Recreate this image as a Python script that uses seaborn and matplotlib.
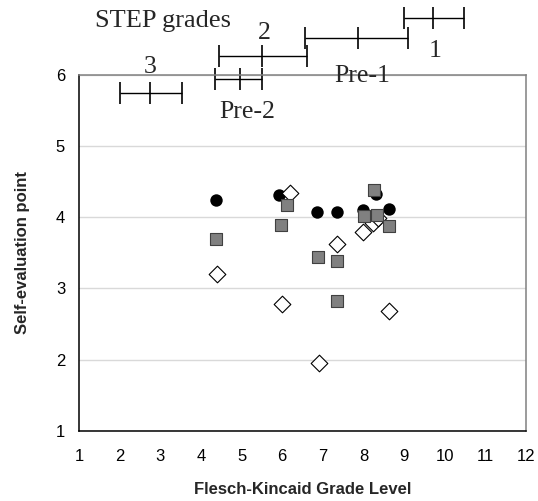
import numpy as np
import pandas as pd
import seaborn as sns
import matplotlib.pyplot as plt

# self-evaluation vs Flesch-Kincaid grade, three groups of readers
circle_x = [4.37, 5.92, 6.86, 7.34, 8.00, 8.32, 8.62]
circle_y = [4.24, 4.31, 4.07, 4.08, 4.10, 4.33, 4.11]

square_x = [4.38, 5.97, 6.11, 6.87, 7.34, 7.34, 8.01, 8.27, 8.33, 8.62]
square_y = [3.69, 3.89, 4.17, 3.44, 3.39, 2.83, 4.02, 4.38, 4.03, 3.88]

diamond_x = [4.40, 6.00, 6.19, 6.91, 7.36, 8.00, 8.23, 8.36, 8.64]
diamond_y = [3.21, 2.78, 4.34, 1.95, 3.62, 3.79, 3.92, 3.99, 2.68]

# STEP grade ranges on the FK scale (drawn above the plot)
step_grades = ['3', 'Pre-2', '2', 'Pre-1', '1']
step_low = [2.02, 4.35, 4.45, 6.56, 8.99]
step_mean = [2.75, 4.96, 5.51, 7.87, 9.72]
step_high = [3.54, 5.51, 6.60, 9.09, 10.48]
step_row = [5.75, 5.94, 6.26, 6.52, 6.79]

x_ticks = list(range(1, 13))
y_ticks = list(range(1, 7))

sns.set_style('white')
plt.rcParams['font.family'] = ['Liberation Sans', 'DejaVu Sans']

fig = plt.figure(figsize=(5.38, 5.01), dpi=100)
ax = fig.add_axes([79 / 538, 1 - 431 / 501, 447 / 538, 356.3 / 501])

sns.scatterplot(x=circle_x, y=circle_y, marker='o', s=80, color='black',
                edgecolor='black', linewidth=0, ax=ax, zorder=3)
sns.scatterplot(x=diamond_x, y=diamond_y, marker='D', s=72, color='white',
                edgecolor='black', linewidth=0.8, ax=ax, zorder=4)
sns.scatterplot(x=square_x, y=square_y, marker='s', s=78, color='#808080',
                edgecolor='#404040', linewidth=0.8, ax=ax, zorder=5)

ax.set_xlim(1, 12)
ax.set_ylim(1, 6)
ax.set_xticks(x_ticks)
ax.set_yticks(y_ticks)
ax.yaxis.grid(True, color='#d9d9d9', lw=1)
ax.xaxis.grid(False)
ax.set_axisbelow(True)

ax.tick_params(direction='in', length=4, width=1, labelsize=12, colors='black')
ax.tick_params(axis='x', pad=13)
ax.tick_params(axis='y', pad=10)
for side in ['left', 'bottom']:
    ax.spines[side].set_color('black')
    ax.spines[side].set_linewidth(1.1)
for side in ['top', 'right']:
    ax.spines[side].set_color('#808080')
    ax.spines[side].set_linewidth(1.1)

ax.set_xlabel('Flesch-Kincaid Grade Level', fontsize=12, fontweight='bold')
ax.set_ylabel('Self-evaluation point', fontsize=12, fontweight='bold')
ax.xaxis.set_label_coords(0.5, -0.143)
ax.yaxis.set_label_coords(-0.11, 0.5)

# STEP grade bars
mean = np.array(step_mean)
xerr = [mean - np.array(step_low), np.array(step_high) - mean]
eb = ax.errorbar(step_mean, step_row, xerr=xerr, fmt='|', color='black',
                 markersize=16, mew=1.2, elinewidth=1, capsize=8, capthick=1)
eb.lines[0].set_clip_on(False)
for a in list(eb.lines[1]) + list(eb.lines[2]):
    a.set_clip_on(False)

label_offset = {'3': (0, 18.5), 'Pre-2': (5, -23.5), '2': (1.4, 16.8),
                'Pre-1': (2.9, -27.6), '1': (1, -23.5)}
for name, mx, my in zip(step_grades, step_mean, step_row):
    ax.annotate(name, xy=(mx, my), xytext=label_offset[name],
                textcoords='offset points', ha='center', va='center',
                family='Liberation Serif', fontsize=18.5, annotation_clip=False)

fig.text(0.303, 0.958, 'STEP grades', ha='center', va='center',
         family='Liberation Serif', fontsize=19)

fig.savefig('out.png', dpi=100)
